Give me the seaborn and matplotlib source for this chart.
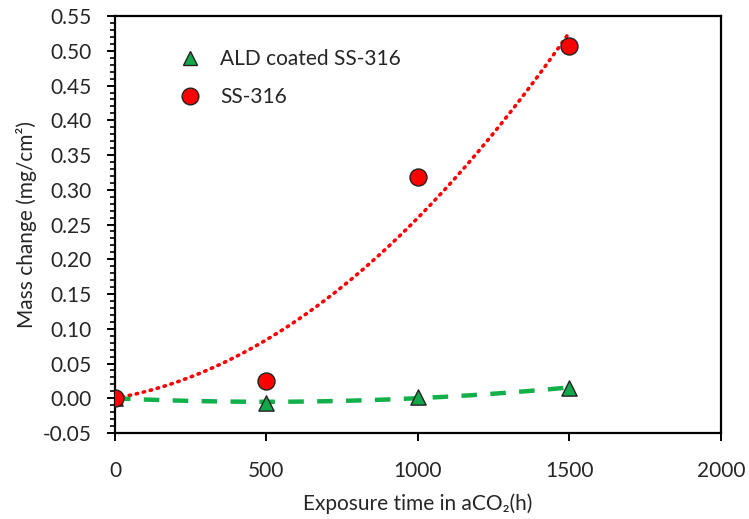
import numpy as np
import pandas as pd
import matplotlib
matplotlib.use("Agg")
import matplotlib.pyplot as plt
import seaborn as sns
from matplotlib.ticker import MultipleLocator, FormatStrFormatter
from matplotlib.lines import Line2D

time_h = [0, 500, 1000, 1500]
ald_coated = [0.0, -0.007, 0.002, 0.015]
ss316 = [0.0, 0.025, 0.319, 0.507]

label_ald = "ALD coated SS-316"
label_ss = "SS-316"

sns.set_theme(style="white")
plt.rcParams['font.family'] = ['Lato', 'DejaVu Sans']

fig = plt.figure(figsize=(7.49, 5.19), dpi=100)
ax = fig.add_axes([0.1535, 0.1657, 0.8091, 0.8033])


def fit_zero_intercept(x, y):
    x = np.asarray(x, float)
    A = np.column_stack([x ** 2, x])
    coef, *_ = np.linalg.lstsq(A, np.asarray(y, float), rcond=None)
    return coef


xs = np.linspace(0, 1500, 200)
a_ss, b_ss = fit_zero_intercept(time_h, ss316)
a_ald, b_ald = fit_zero_intercept(time_h, ald_coated)
trend = pd.DataFrame({"x": xs,
                      "ss": a_ss * xs ** 2 + b_ss * xs,
                      "ald": a_ald * xs ** 2 + b_ald * xs})

sns.lineplot(data=trend, x="x", y="ss", ax=ax, color="#ff0000", lw=2.6,
             linestyle=(0, (0.4, 1.6)), dash_capstyle="round", zorder=2)
sns.lineplot(data=trend, x="x", y="ald", ax=ax, color="#12b04a", lw=3.2,
             linestyle=(0, (3.5, 3.0)), zorder=2)

df_ss = pd.DataFrame({"t": time_h, "m": ss316})
df_ald = pd.DataFrame({"t": time_h, "m": ald_coated})
sns.scatterplot(data=df_ss, x="t", y="m", ax=ax, marker="o", s=150,
                color="#ff0000", edgecolor="#222222", linewidth=1.0, zorder=4)
sns.scatterplot(data=df_ald, x="t", y="m", ax=ax, marker="^", s=120,
                color="#12a84a", edgecolor="#222222", linewidth=1.0, zorder=3)

ax.set_xlim(0, 2000)
ax.set_ylim(-0.05, 0.55)
ax.xaxis.set_major_locator(MultipleLocator(500))
ax.yaxis.set_major_locator(MultipleLocator(0.05))
ax.yaxis.set_minor_locator(MultipleLocator(0.01))
ax.yaxis.set_major_formatter(FormatStrFormatter("%.2f"))

for s in ax.spines.values():
    s.set_color("black")
    s.set_linewidth(1.6)

ax.tick_params(axis="x", which="major", direction="out", length=6, width=1.4,
               pad=14, labelsize=15, color="black", bottom=True)
ax.tick_params(axis="y", which="major", direction="out", length=6, width=1.4,
               pad=11, labelsize=15, color="black", left=True)
ax.tick_params(axis="y", which="minor", direction="out", length=3.5, width=1.2,
               color="black", left=True)

ax.set_xlabel("Exposure time in aCO\u2082(h)", fontsize=15, labelpad=9)
ax.set_ylabel("Mass change (mg/cm\u00b2)", fontsize=15, labelpad=4)

h1 = Line2D([], [], marker="^", ls="none", markersize=10, markerfacecolor="#12a84a",
            markeredgecolor="#222222", markeredgewidth=1.0)
h2 = Line2D([], [], marker="o", ls="none", markersize=12, markerfacecolor="#ff0000",
            markeredgecolor="#222222", markeredgewidth=1.0)
ax.legend([h1, h2], [label_ald, label_ss], loc="upper left", bbox_to_anchor=(0.058, 0.965),
          frameon=False, fontsize=15, handletextpad=0.45, labelspacing=0.85)

fig.savefig("out.png", dpi=100)
